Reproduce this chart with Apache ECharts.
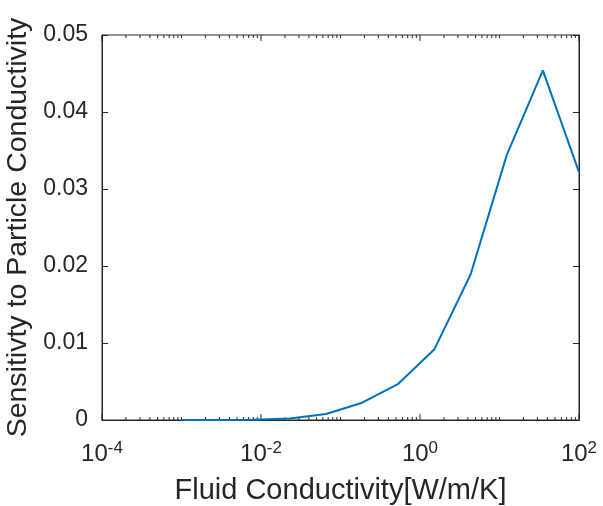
<!DOCTYPE html>
<html>
<head>
<meta charset="utf-8">
<script src="https://cdn.jsdelivr.net/npm/echarts@6/dist/echarts.min.js"></script>
<style>
html,body{margin:0;padding:0;background:#fff;}
#chart{width:603px;height:506px;}
</style>
</head>
<body>
<div id="chart"></div>
<script>
// Data
var fluidConductivity = [0.001, 0.002848, 0.008111, 0.0231, 0.06579, 0.1874, 0.5337, 1.520, 4.329, 12.33, 35.11, 100];
var sensitivity = [0.0, 0.00001, 0.00004, 0.00018, 0.00078, 0.00225, 0.0047, 0.0092, 0.0189, 0.0344, 0.0454, 0.0322];
var xTickDecades = [-4, -3, -2, -1, 0, 1, 2];
var yTicks = [0, 0.01, 0.02, 0.03, 0.04, 0.05];

var axisColor = '#262626';
var FONT = "'Liberation Sans', Arial, Helvetica, sans-serif";

// tick marks for MATLAB-style log axis (labelled decades = major; others minor)
var tickItems = [];
xTickDecades.forEach(function (d, i) {
  tickItems.push([Math.pow(10, d), (d % 2 === 0) ? 1 : 0]);
  if (i < xTickDecades.length - 1) {
    for (var m = 2; m <= 9; m++) tickItems.push([m * Math.pow(10, d), 0]);
  }
});

var lineData = fluidConductivity.map(function (x, i) { return [x, sensitivity[i]]; });

var chart = echarts.init(document.getElementById('chart'), null, {renderer: 'canvas'});
chart.setOption({
  animation: false,
  backgroundColor: '#ffffff',
  grid: {left: 102, right: 24, top: 35, bottom: 86, outerBoundsMode: 'none', containLabel: false, show: true, borderColor: axisColor, borderWidth: 1, backgroundColor: 'transparent'},
  xAxis: [{
    type: 'log',
    logBase: 10,
    min: 1e-4,
    max: 100,
    name: 'Fluid Conductivity[W/m/K]',
    nameLocation: 'middle',
    nameGap: 56,
    nameTextStyle: {fontFamily: FONT, fontSize: 29, color: axisColor},
    axisLine: {show: true, lineStyle: {color: axisColor, width: 1}},
    axisTick: {show: false},
    splitLine: {show: false},
    minorTick: {show: false},
    axisLabel: {
      margin: 20,
      color: axisColor,
      formatter: function (v) {
        var e = Math.round(Math.log10(v));
        if (e % 2 !== 0) return '';
        return '{b|10}{s|' + e + '}';
      },
      rich: {
        b: {fontFamily: FONT, fontSize: 24, color: axisColor, verticalAlign: 'bottom', lineHeight: 26},
        s: {fontFamily: FONT, fontSize: 17, color: axisColor, verticalAlign: 'top', lineHeight: 26}
      }
    }
  }],
  yAxis: [{
    type: 'value',
    min: 0,
    max: 0.05,
    interval: 0.01,
    name: 'Sensitivty to Particle Conductivity',
    nameLocation: 'middle',
    nameGap: 58,
    nameRotate: 90,
    nameTextStyle: {fontFamily: FONT, fontSize: 28.5, color: axisColor},
    axisLine: {show: true, lineStyle: {color: axisColor, width: 1}},
    axisTick: {show: true, inside: true, length: 6, lineStyle: {color: axisColor}},
    splitLine: {show: false},
    axisLabel: {
      margin: 14,
      fontFamily: FONT,
      fontSize: 23,
      color: axisColor,
      formatter: function (v) { return v === 0 ? '0' : v.toFixed(2); }
    }
  }, {
    type: 'value',
    position: 'right',
    min: 0,
    max: 0.05,
    interval: 0.01,
    axisLine: {show: true, lineStyle: {color: axisColor, width: 1}},
    axisTick: {show: true, inside: true, length: 6, lineStyle: {color: axisColor}},
    splitLine: {show: false},
    axisLabel: {show: false}
  }],
  series: [{
    type: 'custom',
    silent: true,
    xAxisIndex: 0,
    yAxisIndex: 0,
    z: 5,
    clip: false,
    data: tickItems,
    renderItem: function (params, api) {
      var v = api.value(0);
      var major = api.value(1) === 1;
      var len = major ? 6 : 3;
      var pb = api.coord([v, 0]);
      var pt = api.coord([v, 0.05]);
      var style = {stroke: axisColor, lineWidth: 1};
      return {
        type: 'group',
        children: [
          {type: 'line', shape: {x1: pb[0], y1: pb[1], x2: pb[0], y2: pb[1] - len}, style: style},
          {type: 'line', shape: {x1: pt[0], y1: pt[1], x2: pt[0], y2: pt[1] + len}, style: style}
        ]
      };
    }
  }, {
    type: 'line',
    xAxisIndex: 0,
    yAxisIndex: 0,
    data: lineData,
    showSymbol: false,
    symbol: 'none',
    z: 10,
    lineStyle: {color: '#0072BD', width: 2}
  }]
});
</script>
</body>
</html>
